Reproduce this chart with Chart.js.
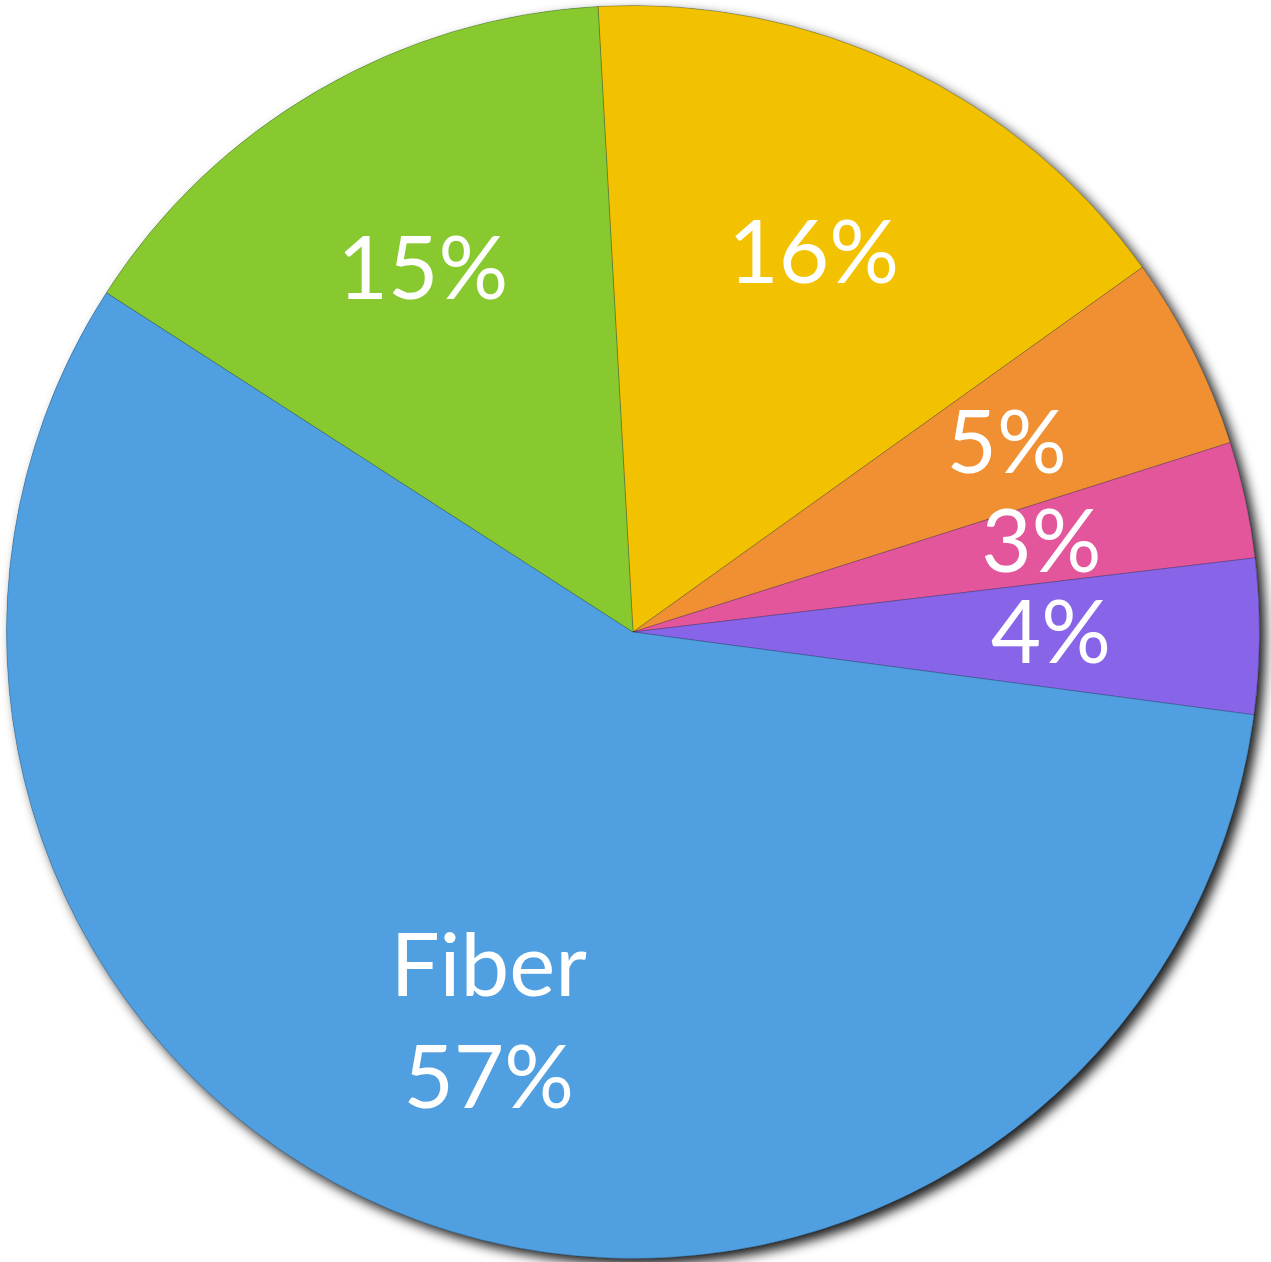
<!DOCTYPE html>
<html>
<head>
<meta charset="utf-8">
<script src="https://cdn.jsdelivr.net/npm/chart.js@4/dist/chart.umd.min.js"></script>
<style>
  html, body { margin: 0; padding: 0; background: #ffffff; }
  #wrap { width: 1271px; height: 1262px; }
</style>
</head>
<body>
<div id="wrap"><canvas id="pieChart"></canvas></div>
<script>
  // slices clockwise from the top
  var categories = ['Other A', 'Other B', 'Other C', 'Other D', 'Fiber', 'Other E'];
  var shares = [16, 5, 3, 4, 57, 15];
  var sliceLabels = [['16%'], ['5%'], ['3%'], ['4%'], ['Fiber', '57%'], ['15%']];
  var sliceColors = ['#f2c200', '#f09033', '#e3569b', '#8865e8', '#509fe0', '#87c92e'];

  // soft dark shadow under the whole pie
  var shadowPlugin = {
    id: 'pieShadow',
    beforeDatasetsDraw: function(chart) {
      var arc = chart.getDatasetMeta(0).data[0];
      if (!arc) return;
      var ctx = chart.ctx;
      ctx.save();
      ctx.shadowColor = 'rgba(0,0,0,0.9)';
      ctx.shadowBlur = 12;
      ctx.shadowOffsetX = 6;
      ctx.shadowOffsetY = 6;
      ctx.fillStyle = '#509fe0';
      ctx.beginPath();
      ctx.arc(arc.x, arc.y, arc.outerRadius, 0, Math.PI * 2);
      ctx.fill();
      ctx.restore();
    }
  };

  // white labels at two thirds of the radius on each slice's middle angle
  var labelPlugin = {
    id: 'sliceLabels',
    afterDatasetsDraw: function(chart) {
      var ctx = chart.ctx;
      var meta = chart.getDatasetMeta(0);
      ctx.save();
      ctx.fillStyle = '#ffffff';
      ctx.font = '87px Lato, "Open Sans", sans-serif';
      ctx.textAlign = 'center';
      ctx.textBaseline = 'middle';
      meta.data.forEach(function(arc, i) {
        var mid = (arc.startAngle + arc.endAngle) / 2;
        var r = arc.outerRadius * 0.667;
        var x = arc.x + Math.cos(mid) * r;
        var y = arc.y + Math.sin(mid) * r;
        var lines = sliceLabels[i];
        var lineHeight = 112;
        var top = y - (lines.length - 1) * lineHeight / 2;
        lines.forEach(function(t, j) {
          ctx.fillText(t, x, top + j * lineHeight);
        });
      });
      ctx.restore();
    }
  };

  new Chart(document.getElementById('pieChart'), {
    type: 'pie',
    data: {
      labels: categories,
      datasets: [{
        data: shares,
        backgroundColor: sliceColors,
        borderColor: 'rgba(0,0,0,0.22)',
        borderWidth: 1
      }]
    },
    options: {
      responsive: true,
      maintainAspectRatio: false,
      animation: false,
      rotation: -3.2,
      layout: { padding: { left: 6, top: 5, right: 11, bottom: 3 } },
      plugins: {
        legend: { display: false },
        tooltip: { enabled: false }
      }
    },
    plugins: [shadowPlugin, labelPlugin]
  });
</script>
</body>
</html>
